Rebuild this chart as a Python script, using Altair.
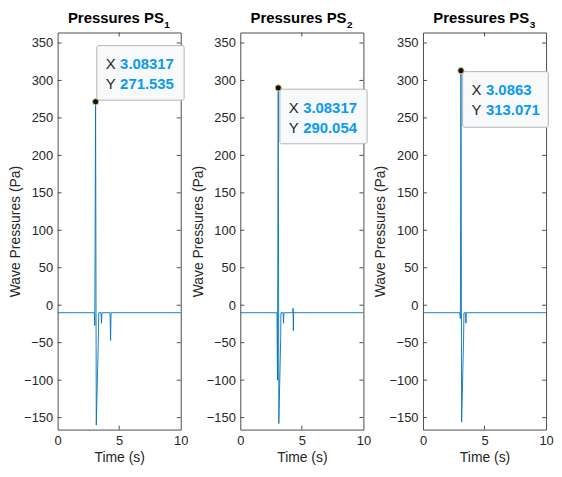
import altair as alt
import pandas as pd

# ---------------- data ----------------
subscripts = ["1", "2", "3"]

t1 = [0, 2.98, 3.02, 3.083, 3.14, 3.30, 3.34, 3.52, 3.56, 3.60, 4.26, 4.30, 4.34, 10]
p1 = [-10, -10, -27, 271.535, -160, -50, -10, -10, -24, -10, -10, -47, -10, -10]

t2 = [0, 2.98, 3.02, 3.083, 3.13, 3.28, 3.30, 3.48, 3.51, 3.54, 4.27, 4.29, 4.31, 4.33, 10]
p2 = [-10, -10, -100, 290.054, -158, -45, -10, -10, -24, -10, -10, -4, -34, -10, -10]

t3 = [0, 3.0, 3.04, 3.0863, 3.14, 3.30, 3.33, 3.46, 3.49, 3.52, 10]
p3 = [-10, -10, -18, 313.071, -156, -45, -10, -10, -24, -10, -10]

series_t = [t1, t2, t3]
series_p = [p1, p2, p3]

peak_x = [3.08317, 3.08317, 3.0863]
peak_y = [271.535, 290.054, 313.071]
peak_x_label = ["3.08317", "3.08317", "3.0863"]
peak_y_label = ["271.535", "290.054", "313.071"]

x_ticks = [0, 5, 10]
y_ticks = [-150, -100, -50, 0, 50, 100, 150, 200, 250, 300, 350]
X_DOMAIN = [0, 10]
Y_DOMAIN = [-166, 364]

# ---------------- style ----------------
W, H = 124, 400
FONT = "Liberation Sans"
TXT = "#262626"
LINE = "#0072BD"
BLUE = "#0a9af0"
BOX = "#4d4d4d"
TICK_LEN = 4

# datatip box offsets relative to the data point (left, right, top, bottom)
box_offsets = [
    (1.2, 89.2, -56.6, -1.6),
    (1.6, 89.5, 1.3, 56.3),
    (1.7, 88.0, 1.0, 57.0),
]

xs = alt.Scale(domain=X_DOMAIN, nice=False, zero=False)
ys = alt.Scale(domain=Y_DOMAIN, nice=False, zero=False)
x_axis = alt.Axis(values=x_ticks, title="Time (s)", labelFlush=False,
                  labelPadding=5, titlePadding=3)
y_axis = alt.Axis(values=y_ticks, title="Wave Pressures (Pa)",
                  labelPadding=5, titlePadding=1)


def X(f="t:Q"):
    return alt.X(f, scale=xs, axis=x_axis)


def Y(f="p:Q"):
    return alt.Y(f, scale=ys, axis=y_axis)


def panel(i):
    df = pd.DataFrame({"t": series_t[i], "p": series_p[i], "i": range(len(series_t[i]))})
    line = alt.Chart(df).mark_line(color=LINE, strokeWidth=0.9).encode(
        x=X(), y=Y(), order="i:Q",
    )

    ydf = pd.DataFrame({"p": y_ticks})
    xdf = pd.DataFrame({"t": x_ticks[1:-1]})
    tk = dict(color=BOX, strokeWidth=1)
    yl = alt.Chart(ydf).mark_rule(**tk).encode(
        y=Y(), x=alt.value(0), x2=alt.value(TICK_LEN))
    yr = alt.Chart(ydf).mark_rule(**tk).encode(
        y=Y(), x=alt.value(W - TICK_LEN), x2=alt.value(W))
    xb = alt.Chart(xdf).mark_rule(**tk).encode(
        x=X(), y=alt.value(H - TICK_LEN), y2=alt.value(H))
    xt = alt.Chart(xdf).mark_rule(**tk).encode(
        x=X(), y=alt.value(0), y2=alt.value(TICK_LEN))

    pk = pd.DataFrame({"t": [peak_x[i]], "p": [peak_y[i]],
                       "xl": [peak_x_label[i]], "yl": [peak_y_label[i]]})
    l, r, top, bot = box_offsets[i]
    rect = alt.Chart(pk).mark_rect(
        fill="#f8f9fb", stroke="#b4b4b4", strokeWidth=1, cornerRadius=2,
        xOffset=l, x2Offset=r, yOffset=top, y2Offset=bot,
    ).encode(x=X(), x2="t:Q", y=Y(), y2="p:Q")

    dot = alt.Chart(pk).mark_point(
        filled=True, fill="#111111", stroke="#d8c98a", strokeWidth=1, size=40, opacity=1
    ).encode(x=X(), y=Y())

    tx = dict(font=FONT, fontSize=15, align="left", baseline="middle")
    lx = alt.Chart(pk).mark_text(color=TXT, text="X", dx=l + 9, dy=top + 18.5, **tx).encode(x=X(), y=Y())
    ly = alt.Chart(pk).mark_text(color=TXT, text="Y", dx=l + 9, dy=top + 39, **tx).encode(x=X(), y=Y())
    vx = alt.Chart(pk).mark_text(color=BLUE, fontWeight="bold", dx=l + 23.5, dy=top + 18.5, **tx).encode(
        x=X(), y=Y(), text="xl:N")
    vy = alt.Chart(pk).mark_text(color=BLUE, fontWeight="bold", dx=l + 23.5, dy=top + 39, **tx).encode(
        x=X(), y=Y(), text="yl:N")

    title_main = alt.Chart(pk).mark_text(
        text="Pressures PS", font=FONT, fontSize=15, fontWeight="bold", color="#000000",
        align="right", baseline="middle"
    ).encode(x=alt.value(W / 2 + 45), y=alt.value(-15))
    title_sub = alt.Chart(pk).mark_text(
        text=subscripts[i], font=FONT, fontSize=10, fontWeight="bold", color="#000000",
        align="left", baseline="middle"
    ).encode(x=alt.value(W / 2 + 45.5), y=alt.value(-8))

    return alt.layer(line, yl, yr, xb, xt, rect, dot, lx, ly, vx, vy, title_main, title_sub).properties(
        width=W, height=H)


chart = alt.hconcat(*[panel(i) for i in range(3)], spacing=60, bounds="flush").properties(
    padding={"left": 0, "top": 0, "right": 0, "bottom": 0}, background="white"
).configure_view(stroke=BOX, strokeWidth=1).configure_axis(
    labelFont=FONT, labelFontSize=13, labelColor=TXT,
    titleFont=FONT, titleFontSize=14, titleFontWeight="normal", titleColor=TXT,
    domain=False, ticks=False, tickSize=0, grid=False, labelOverlap=False,
)

chart.save("out.html", embed_options={"renderer": "svg", "actions": False})
